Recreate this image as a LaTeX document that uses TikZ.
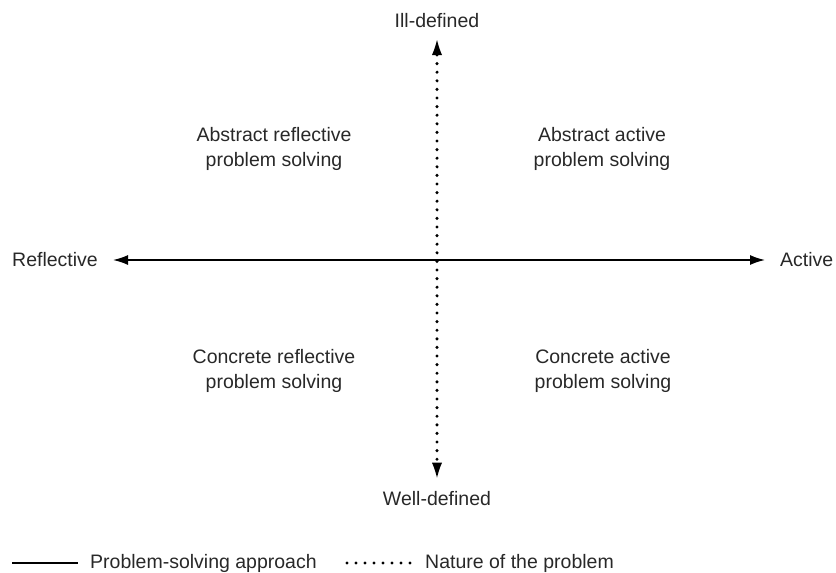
\documentclass[tikz,border=0pt]{standalone}
\usepackage{fontspec}
\setmainfont{Liberation Sans}
\usepackage{tikz}
\usetikzlibrary{arrows.meta,positioning}
\definecolor{ink}{RGB}{40,40,40}

\begin{document}
\begin{tikzpicture}[x=1pt,y=-1pt,lbl/.style={font=\fontsize{19.5}{25}\selectfont,text=ink,inner sep=0pt},quad/.style={lbl,align=center},solidarrow/.style={{Latex[length=15pt,width=10pt]}-{Latex[length=15pt,width=10pt]},line width=1.5pt,draw=black},dotarrow/.style={{Latex[length=15pt,width=10pt,line width=0pt]}-{Latex[length=15pt,width=10pt,line width=0pt]},line width=3.4pt,line cap=round,dash pattern=on 0pt off 8.6pt,draw=black},legsolid/.style={line width=1.5pt,draw=black},legdots/.style={line width=3.2pt,line cap=round,dash pattern=on 0pt off 9pt,draw=black}]
\useasboundingbox (0,0) rectangle (836,573);
% axis labels
\node[lbl,anchor=base] (ill) at (437,27) {Ill-defined};
\node[lbl,anchor=base] (well) at (437,505) {Well-defined};
\node[lbl,anchor=base west] (refl) at (12,266) {Reflective};
\node[lbl,anchor=base west] (act) at (780,266) {Active};
% quadrants
\node[quad] (absrefl) at (274,149) {Abstract reflective\\problem solving};
\node[quad] (absact) at (602,149) {Abstract active\\problem solving};
\node[quad] (conrefl) at (274,371) {Concrete reflective\\problem solving};
\node[quad] (conact) at (603,371) {Concrete active\\problem solving};
% axes
\draw[solidarrow,shorten <=15pt,shorten >=15pt] (refl.east |- 0,260) -- (act.west |- 0,260);
\draw[dotarrow,shorten <=13pt,shorten >=13pt] (ill.base) -- (well.north);
% legend
\coordinate (s1) at (12,563);
\coordinate (s2) at (78,563);
\node[lbl,anchor=base west] (legapp) at (90,568) {Problem-solving approach};
\coordinate (d1) at (347,563);
\coordinate (d2) at (411,563);
\node[lbl,anchor=base west] (legnat) at (425,568) {Nature of the problem};
\draw[legsolid] (s1) -- (s2);
\draw[legdots] (d1) -- (d2);
\end{tikzpicture}
\end{document}
